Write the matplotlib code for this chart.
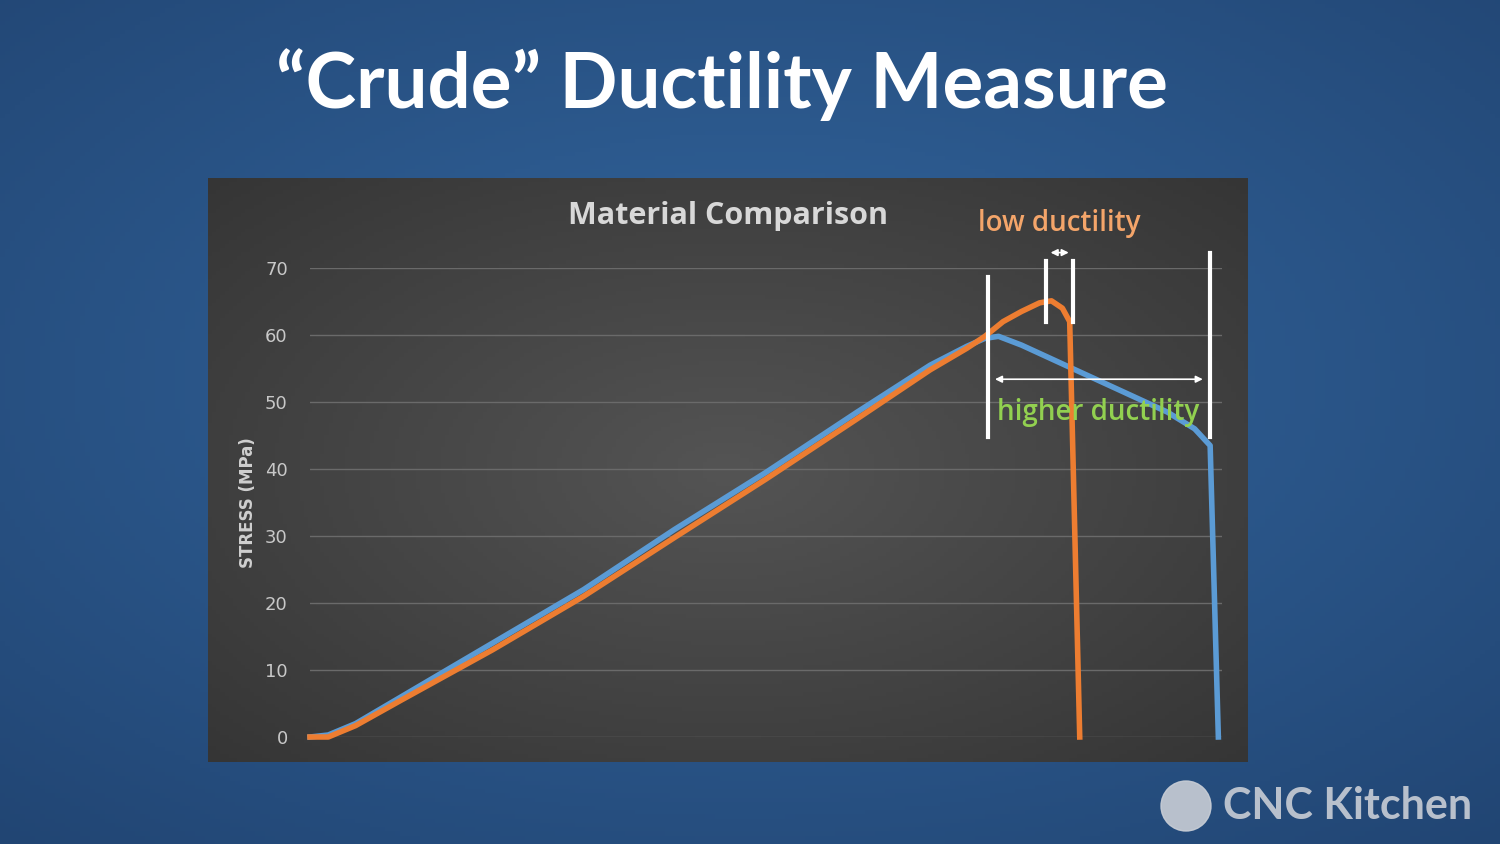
import numpy as np
import matplotlib.pyplot as plt
from matplotlib.patches import Ellipse

# strain in arbitrary units (no x ticks in the original), stress in MPa
blue_x = [0, 2, 5, 10, 20, 30, 40, 50, 60, 68, 72, 74, 75.5, 78, 82, 86, 90, 94, 97, 98.7, 99.6]
blue_y = [0, 0.3, 2, 6, 14, 22, 31, 39.5, 48.5, 55.5, 58.3, 59.5, 59.8, 58.5, 56, 53.5, 51, 48.5, 46, 43.5, 0]
orange_x = [0, 2, 5, 10, 20, 30, 40, 50, 60, 68, 72, 74, 76, 78, 80, 81.3, 82.5, 83.3, 84.4]
orange_y = [0, 0, 1.7, 5.5, 13, 21, 29.8, 38.5, 47.5, 54.8, 58, 59.8, 62, 63.5, 64.8, 65.1, 64, 62, 0]
yticks = [0, 10, 20, 30, 40, 50, 60, 70]

W, H = 1500, 844
fig = plt.figure(figsize=(W / 100, H / 100), dpi=100)

# blue slide background
bg = fig.add_axes([0, 0, 1, 1])
yy, xx = np.mgrid[0:1:200j, 0:1:300j]
r = np.sqrt((xx - 0.5) ** 2 + (yy - 0.45) ** 2)
c0 = np.array([0.20, 0.40, 0.62])
c1 = np.array([0.13, 0.27, 0.45])
img = c0 + (c1 - c0) * np.clip(r / 0.75, 0, 1)[..., None]
bg.imshow(img, extent=[0, 1, 0, 1], aspect='auto')
bg.axis('off')
bg.set_xlim(0, 1)
bg.set_ylim(0, 1)

fig.text(0.481, 1 - 85 / H, "\u201cCrude\u201d Ductility Measure", color='white',
         fontsize=55, fontweight='bold', ha='center', va='center', family='Lato')

# dark chart panel
px0, px1, py0, py1 = 208 / W, 1248 / W, 1 - 762 / H, 1 - 178 / H
panel = fig.add_axes([px0, py0, px1 - px0, py1 - py0])
yy, xx = np.mgrid[0:1:150j, 0:1:250j]
r = np.sqrt((xx - 0.5) ** 2 + (yy - 0.5) ** 2)
g = 0.33 - 0.12 * np.clip(r / 0.7, 0, 1)
panel.imshow(np.dstack([g, g, g]), extent=[0, 1, 0, 1], aspect='auto')
panel.axis('off')

ax = fig.add_axes([310 / W, 1 - 737 / H, (1222 - 310) / W, (737 - 268) / H])
ax.patch.set_alpha(0)
ax.set_xlim(0, 100)
ax.set_ylim(0, 70)
ax.set_yticks(yticks)
ax.set_xticks([])
ax.grid(axis='y', color='#6a6a6a', lw=1)
ax.tick_params(axis='y', length=0, colors='#c8c8c8', labelsize=13, pad=16)
for s in ax.spines.values():
    s.set_visible(False)
ax.set_ylabel('STRESS (MPa)', color='#d0d0d0', fontsize=12, fontweight='bold', labelpad=6)

ax.plot(blue_x, blue_y, color='#5b9bd5', lw=4, clip_on=False, solid_joinstyle='round')
ax.plot(orange_x, orange_y, color='#ed7d31', lw=4, clip_on=False, solid_joinstyle='round')

# annotation lines and arrows
for x, y0, y1 in [(74.3, 44.8, 68.7), (80.7, 62, 71), (83.7, 62, 71), (98.7, 44.8, 72.3)]:
    ax.plot([x, x], [y0, y1], color='white', lw=3, clip_on=False)
ax.annotate('', xy=(80.9, 72.3), xytext=(83.5, 72.3), annotation_clip=False,
            arrowprops=dict(arrowstyle='<|-|>', color='white', lw=1.2, mutation_scale=10))
ax.annotate('', xy=(74.8, 53.4), xytext=(98.2, 53.4), annotation_clip=False,
            arrowprops=dict(arrowstyle='<|-|>', color='white', lw=1.2, mutation_scale=10))
ax.text(82.1, 76.6, 'low ductility', color='#f4a56a', fontsize=20, ha='center', va='center',
        family='Open Sans', fontweight='semibold')
ax.text(86.4, 48.5, 'higher ductility', color='#92d050', fontsize=20, ha='center', va='center',
        family='Open Sans', fontweight='semibold')
ax.text(45.8, 77.8, 'Material Comparison', color='#d8d8d8', fontsize=22, ha='center', va='center',
        fontweight='bold', family='Open Sans')

# watermark
fig.text(1348 / W, 1 - 806 / H, 'CNC Kitchen', color='#c9ced6', fontsize=31, fontweight='bold',
         ha='center', va='center', family='Lato', alpha=0.9)
bg.add_patch(Ellipse((1186 / W, 1 - 806 / H), 50 / W, 50 / H, transform=bg.transAxes,
                     color='#c9ced6', alpha=0.9))

fig.savefig('out.png', dpi=100)
